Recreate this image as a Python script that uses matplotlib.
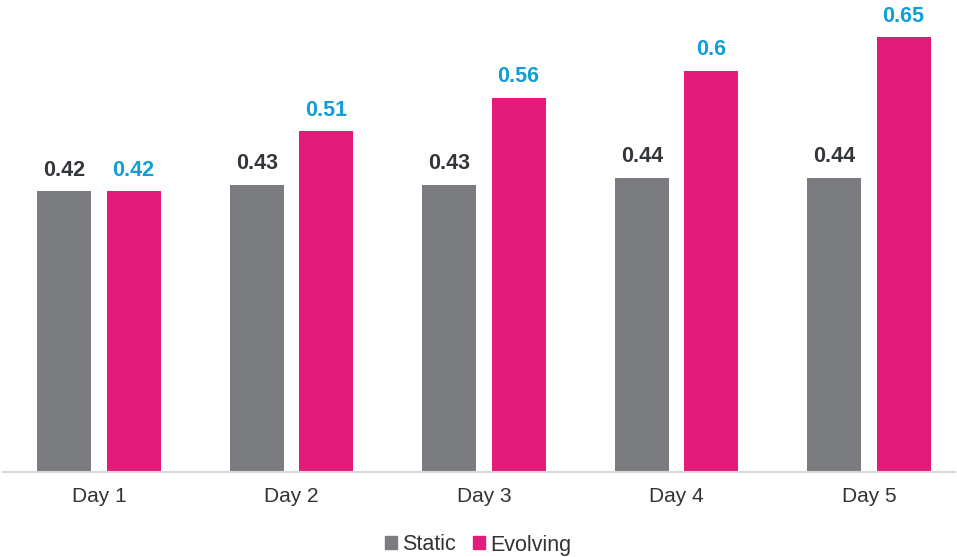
import numpy as np
import matplotlib.pyplot as plt
from matplotlib.patches import Patch

days = ['Day 1', 'Day 2', 'Day 3', 'Day 4', 'Day 5']
static = [0.42, 0.43, 0.43, 0.44, 0.44]
evolving = [0.42, 0.51, 0.56, 0.6, 0.65]

gris = '#7a7c80'
rose = '#e31c79'
bleu = '#0f9ed5'
sombre = '#33363b'

plt.rcParams['font.family'] = ['Liberation Sans', 'DejaVu Sans']

fig = plt.figure(figsize=(9.57, 5.57), dpi=100)
ax = fig.add_axes([3 / 957, 1 - 472 / 557, 952 / 957, 468 / 557])

x = np.arange(len(days))
w = 0.28
b1 = ax.bar(x - 0.18, static, w, color=gris)
b2 = ax.bar(x + 0.18, evolving, w, color=rose)

for r, v in zip(b1, static):
    ax.annotate('{:g}'.format(v), (r.get_x() + r.get_width() / 2, v),
                xytext=(0, 7.5), textcoords='offset points', ha='center', va='bottom',
                fontsize=15.5, fontweight='bold', color=sombre)
for r, v in zip(b2, evolving):
    ax.annotate('{:g}'.format(v), (r.get_x() + r.get_width() / 2, v),
                xytext=(0, 7.5), textcoords='offset points', ha='center', va='bottom',
                fontsize=15.5, fontweight='bold', color=bleu)

ax.set_xlim(-0.4987, 4.447)
ax.set_ylim(0, 0.7)
ax.set_xticks(x)
ax.set_xticklabels(days, fontsize=15, color='#333333')
ax.tick_params(axis='x', length=0, pad=11)
ax.set_yticks([])
for s in ['top', 'left', 'right']:
    ax.spines[s].set_visible(False)
ax.spines['bottom'].set_color('#d9d9d9')
ax.spines['bottom'].set_linewidth(1.5)

handles = [Patch(color=gris, label='Static'), Patch(color=rose, label='Evolving')]
fig.legend(handles=handles, loc='center', bbox_to_anchor=(0.5, 1 - 545 / 557),
           ncol=2, frameon=False, fontsize=15.5, handlelength=0.55, handleheight=0.55,
           handletextpad=0.25, columnspacing=0.8, labelcolor='#333333')

fig.savefig('out.png', dpi=100)
